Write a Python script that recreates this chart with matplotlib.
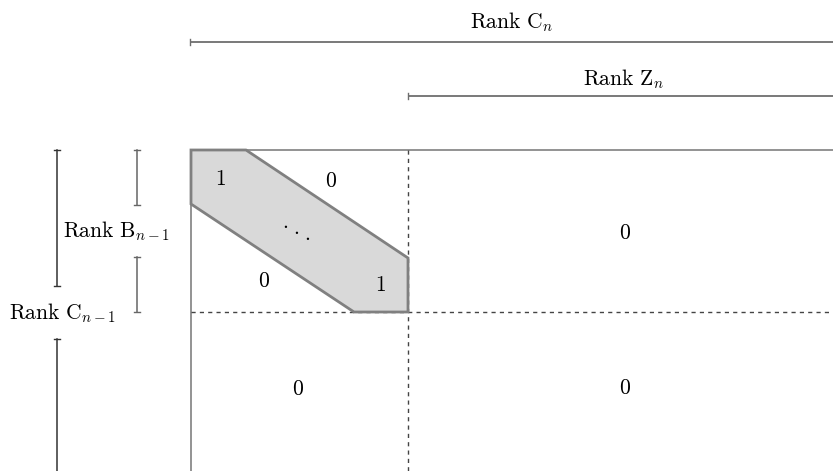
import matplotlib.pyplot as plt
from matplotlib.patches import Polygon

plt.rcParams['mathtext.fontset'] = 'cm'
plt.rcParams['font.family'] = ['DejaVu Serif']

W, H = 833, 471

# block structure of the matrix (pixel units of the reference)
left, top = 191, 150
split_x, split_y = 408, 312
band_w = 55  # width of the diagonal band cut

# cell entries: text and position
cell_labels = ['1', '0', r'$\cdot$', r'$\cdot$', r'$\cdot$', '0', '1', '0', '0', '0']
cell_x = [220, 331, 285, 296, 307, 264, 380, 625, 298, 625]
cell_y = [179, 181, 224, 230, 236, 281, 285, 233, 389, 388]

# rank brackets
top_labels = [r'$\mathrm{Rank\ C}_n$', r'$\mathrm{Rank\ Z}_n$']
top_starts = [190, 408]
top_lines_y = [42, 96]
top_text_xy = [(512, 22), (623, 79)]

fig = plt.figure(figsize=(W / 100, H / 100), dpi=100)
ax = fig.add_axes([0, 0, 1, 1])
ax.set_xlim(0, W)
ax.set_ylim(H, 0)
ax.axis('off')

lc = '#6e6e6e'
fs = 15.5

# top rank lines
for lab, x0, y, (tx, ty) in zip(top_labels, top_starts, top_lines_y, top_text_xy):
    ax.plot([x0, W + 5], [y, y], color=lc, lw=1.3, solid_capstyle='butt')
    ax.plot([x0, x0], [y - 3, y + 3], color=lc, lw=1.0)
    ax.text(tx, ty, lab, fontsize=fs, ha='center', va='center')

# left rank bars
def vbar(x, y0, y1, color, cap0=True, cap1=True):
    ax.plot([x, x], [y0, y1], color=color, lw=1.1)
    for y, c in ((y0, cap0), (y1, cap1)):
        if c:
            ax.plot([x - 3, x + 3], [y, y], color=color, lw=1.0)

vbar(57, 150, 286, '#333333')
vbar(57, 339, H + 5, '#333333', cap1=False)
vbar(137, 150, 205, '#666666')
vbar(137, 257, 312, '#666666')
ax.text(63, 313, r'$\mathrm{Rank\ C}_{n-1}$', fontsize=fs, ha='center', va='center')
ax.text(116, 231, r'$\mathrm{Rank\ B}_{n-1}$', fontsize=fs, ha='center', va='center')

# matrix frame
ax.plot([left, W + 5], [top, top], color='#808080', lw=1.2)
ax.plot([left, left], [top, H + 5], color='#808080', lw=1.2)
ax.plot([split_x, split_x], [top, H + 5], color='#444444', lw=1.0, ls=(0, (3, 3)))
ax.plot([left, W + 5], [split_y, split_y], color='#444444', lw=1.0, ls=(0, (3, 3)))

# diagonal band
band = Polygon([(left, top), (left + band_w, top), (split_x, 258), (split_x, split_y),
                (354, split_y), (left, 204)], closed=True,
               facecolor='#d9d9d9', edgecolor='#808080', lw=2.0, zorder=3)
ax.add_patch(band)

for lab, x, y in zip(cell_labels, cell_x, cell_y):
    ax.text(x, y, lab if lab.startswith('$') else f'${lab}$', fontsize=fs,
            ha='center', va='center', zorder=4)

fig.savefig('out.png', dpi=100)
